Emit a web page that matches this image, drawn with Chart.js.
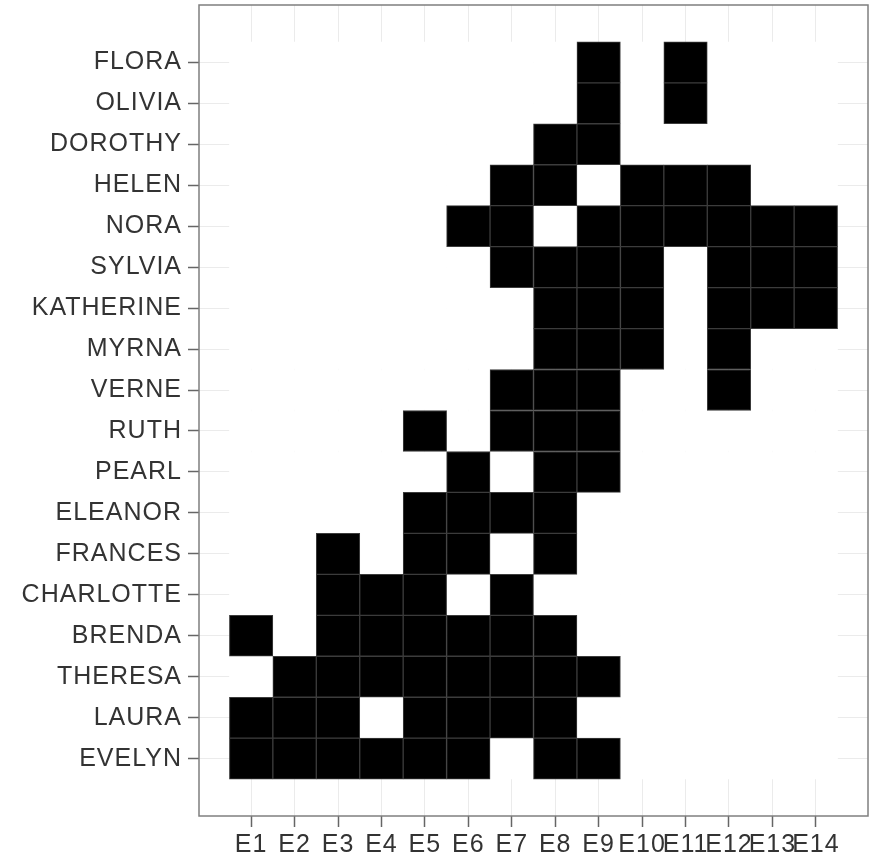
<!DOCTYPE html>
<html>
<head>
<meta charset="utf-8">
<script src="https://cdn.jsdelivr.net/npm/chart.js@4.4.1/dist/chart.umd.min.js"></script>
<style>
  html, body { margin: 0; padding: 0; background: #ffffff; }
  #wrap { width: 879px; height: 860px; }
</style>
</head>
<body>
<div id="wrap"><canvas id="c" width="879" height="860"></canvas></div>
<script>
// Women, bottom row first
const women = ['EVELYN', 'LAURA', 'THERESA', 'BRENDA', 'CHARLOTTE', 'FRANCES',
  'ELEANOR', 'PEARL', 'RUTH', 'VERNE', 'MYRNA', 'KATHERINE', 'SYLVIA', 'NORA',
  'HELEN', 'DOROTHY', 'OLIVIA', 'FLORA'];

// Events along the bottom
const events = ['E1', 'E2', 'E3', 'E4', 'E5', 'E6', 'E7', 'E8', 'E9', 'E10',
  'E11', 'E12', 'E13', 'E14'];

// Events each woman attended (event numbers), same order as `women`
const attended = [
  [1, 2, 3, 4, 5, 6, 8, 9],          // EVELYN
  [1, 2, 3, 5, 6, 7, 8],             // LAURA
  [2, 3, 4, 5, 6, 7, 8, 9],          // THERESA
  [1, 3, 4, 5, 6, 7, 8],             // BRENDA
  [3, 4, 5, 7],                      // CHARLOTTE
  [3, 5, 6, 8],                      // FRANCES
  [5, 6, 7, 8],                      // ELEANOR
  [6, 8, 9],                         // PEARL
  [5, 7, 8, 9],                      // RUTH
  [7, 8, 9, 12],                     // VERNE
  [8, 9, 10, 12],                    // MYRNA
  [8, 9, 10, 12, 13, 14],            // KATHERINE
  [7, 8, 9, 10, 12, 13, 14],         // SYLVIA
  [6, 7, 9, 10, 11, 12, 13, 14],     // NORA
  [7, 8, 10, 11, 12],                // HELEN
  [8, 9],                            // DOROTHY
  [9, 11],                           // OLIVIA
  [9, 11]                            // FLORA
];

// Every woman × event pair becomes one floating bar spanning a full row;
// attended pairs are black, the rest are white tiles.
const present = [];
const absent = [];
women.forEach((_, i) => {
  const row = i + 1;
  events.forEach((_, j) => {
    const e = j + 1;
    const cell = { x: e, y: [row - 0.5, row + 0.5] };
    (attended[i].includes(e) ? present : absent).push(cell);
  });
});

const FONT = "'Liberation Sans', Arial, Helvetica, sans-serif";

// Slightly open letter spacing for the axis labels
const spacing = {
  id: 'spacing',
  beforeInit(chart) { chart.ctx.letterSpacing = '1px'; },
  beforeDraw(chart) { chart.ctx.letterSpacing = '1px'; }
};

// Grey frame around the whole plotting panel
const panelBorder = {
  id: 'panelBorder',
  afterDatasetsDraw(chart) {
    const a = chart.chartArea;
    const ctx = chart.ctx;
    ctx.save();
    ctx.strokeStyle = '#7f7f7f';
    ctx.lineWidth = 1.5;
    ctx.strokeRect(a.left, a.top, a.right - a.left, a.bottom - a.top);
    ctx.restore();
  }
};

new Chart(document.getElementById('c'), {
  type: 'bar',
  data: {
    datasets: [{
      data: absent,
      backgroundColor: '#ffffff',
      borderColor: '#ffffff',
      borderWidth: 1,
      borderSkipped: false,
      grouped: false,
      order: 2,
      barPercentage: 1.0,
      categoryPercentage: 1.0
    }, {
      data: present,
      backgroundColor: '#000000',
      borderColor: '#3c3c3c',
      borderWidth: 1,
      borderSkipped: false,
      grouped: false,
      order: 1,
      barPercentage: 1.0,
      categoryPercentage: 1.0
    }]
  },
  options: {
    responsive: false,
    animation: false,
    layout: { padding: { left: 0, right: 11, top: 5, bottom: 0 } },
    plugins: { legend: { display: false }, tooltip: { enabled: false } },
    scales: {
      x: {
        type: 'linear',
        offset: false,
        min: -0.2,
        max: 15.2,
        afterBuildTicks(scale) {
          scale.ticks = events.map((_, i) => ({ value: i + 1 }));
        },
        afterFit(scale) {
          scale.height = 44;
          scale.paddingLeft = 0;
          scale.paddingRight = 0;
        },
        ticks: {
          autoSkip: false,
          maxRotation: 0,
          minRotation: 0,
          padding: 3,
          color: '#333333',
          font: { family: FONT, size: 25 },
          callback: (v) => events[v - 1] || ''
        },
        grid: {
          offset: false,
          color: '#ebebeb',
          lineWidth: 1,
          tickColor: '#666666',
          tickLength: 11,
          tickWidth: 1.5
        },
        border: { display: false }
      },
      y: {
        type: 'linear',
        offset: false,
        min: -0.4,
        max: 19.4,
        afterBuildTicks(scale) {
          scale.ticks = women.map((_, i) => ({ value: i + 1 }));
        },
        afterFit(scale) {
          scale.width = 199;
          scale.paddingTop = 0;
          scale.paddingBottom = 0;
        },
        ticks: {
          autoSkip: false,
          padding: 6,
          color: '#333333',
          font: { family: FONT, size: 25 },
          callback: (v) => women[v - 1] || ''
        },
        grid: {
          offset: false,
          color: '#ebebeb',
          lineWidth: 1,
          tickColor: '#666666',
          tickLength: 11,
          tickWidth: 1.5
        },
        border: { display: false }
      }
    }
  },
  plugins: [spacing, panelBorder]
});
</script>
</body>
</html>
